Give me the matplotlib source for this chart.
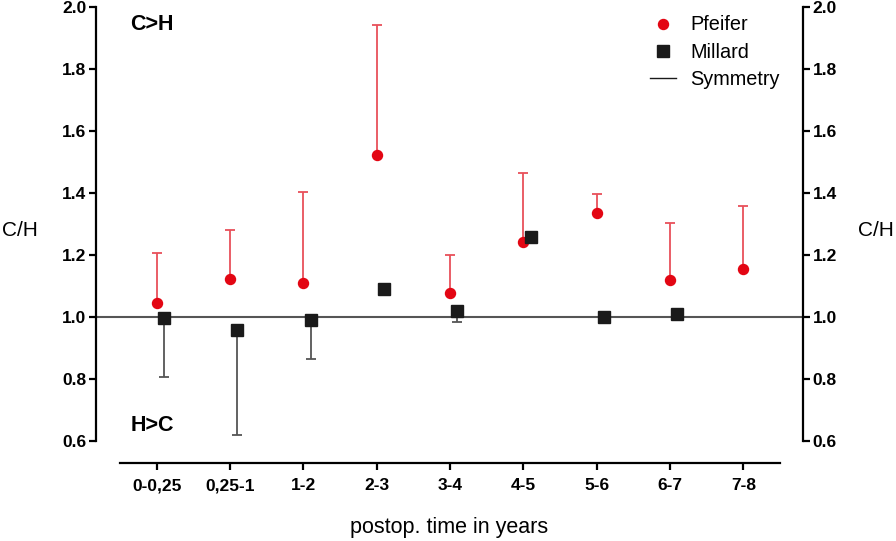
import matplotlib
matplotlib.use("Agg")
import matplotlib.pyplot as plt
from matplotlib.lines import Line2D
import numpy as np

plt.rcParams['font.family'] = ['Liberation Sans', 'DejaVu Sans']

# data
periods = ['0-0,25', '0,25-1', '1-2', '2-3', '3-4', '4-5', '5-6', '6-7', '7-8']
pfeifer = [1.043, 1.120, 1.110, 1.522, 1.077, 1.242, 1.334, 1.118, 1.153]
pfeifer_upper = [1.205, 1.280, 1.402, 1.940, 1.198, 1.463, 1.396, 1.303, 1.357]
millard = [0.996, 0.956, 0.989, 1.088, 1.019, 1.257, 0.998, 1.009, np.nan]
millard_lower = [0.805, 0.619, 0.865, np.nan, 0.982, np.nan, np.nan, np.nan, np.nan]

red = '#e30613'
red_bar = '#e8505a'
dark = '#1a1a1a'
grey_bar = '#555555'

x = np.arange(len(periods))
pf = np.array(pfeifer)
pf_top = np.array(pfeifer_upper)
ml = np.array(millard)
ml_lo = np.array(millard_lower)
has_lo = ~np.isnan(ml_lo)

fig = plt.figure(figsize=(8.96, 5.41), dpi=100)
ax = fig.add_axes([0.107, 0.1442, 0.789, 0.8434])
ax.set_xlim(-0.83, 8.81)
ax.set_ylim(0.528, 2.0)

# symmetry line
ax.axhline(1.0, color=grey_bar, lw=1.5, zorder=1)

# Pfeifer: one-sided upper error bars (stem + cap)
ax.vlines(x, pf, pf_top, color=red_bar, lw=1.3, zorder=2)
ax.plot(x, pf_top, ls='none', marker='_', ms=7, mew=1.3, color=red_bar, zorder=2, clip_on=False)
ax.plot(x, pf, 'o', color=red, markersize=7.2, zorder=3, clip_on=False)

# Millard: one-sided lower error bars, slightly offset
xm = x + 0.1
ax.vlines(xm[has_lo], ml_lo[has_lo], ml[has_lo], color=grey_bar, lw=1.3, zorder=2)
ax.plot(xm[has_lo], ml_lo[has_lo], ls='none', marker='_', ms=7, mew=1.3, color=grey_bar, zorder=2)
ax.plot(xm, ml, 's', color=dark, markersize=8.4, zorder=4)

# spines
for s in ['left', 'right', 'bottom']:
    ax.spines[s].set_linewidth(1.6)
ax.spines['top'].set_visible(False)
ax.spines['left'].set_bounds(0.6, 2.0)
ax.spines['right'].set_bounds(0.6, 2.0)
ax.spines['bottom'].set_bounds(-0.5, 8.5)

yt = [0.6, 0.8, 1.0, 1.2, 1.4, 1.6, 1.8, 2.0]
ax.set_yticks(yt)
ax.set_yticklabels([f'{v:.1f}' for v in yt])
ax.set_xticks(x)
ax.set_xticklabels(periods)
ax.tick_params(axis='both', direction='out', length=5, width=1.6, labelsize=12.5, pad=2)
ax.tick_params(axis='y', right=True, labelright=True)
for lab in ax.get_xticklabels() + ax.get_yticklabels():
    lab.set_fontweight('bold')
ax.tick_params(axis='x', pad=6)

ax.set_ylabel('C/H', rotation=0, fontsize=15, va='center')
ax.yaxis.set_label_coords(-0.107, 0.51)
ax.text(1.104, 0.51, 'C/H', transform=ax.transAxes, fontsize=15, va='center', ha='center')
ax.set_xlabel('postop. time in years', fontsize=15.5, labelpad=17)

ax.text(0.049, 0.962, 'C>H', transform=ax.transAxes, fontsize=15.5, fontweight='bold', va='center')
ax.text(0.049, 0.082, 'H>C', transform=ax.transAxes, fontsize=15.5, fontweight='bold', va='center')

handles = [
    Line2D([], [], marker='o', color=red, ls='none', markersize=7.2),
    Line2D([], [], marker='s', color=dark, ls='none', markersize=8.4),
    Line2D([], [], color=dark, lw=1),
]
ax.legend(handles, ['Pfeifer', 'Millard', 'Symmetry'], loc='upper left',
          bbox_to_anchor=(0.759, 1.02), frameon=False, fontsize=14.3,
          handlelength=1.3, labelspacing=0.42, handletextpad=0.7)

fig.savefig('out.png', dpi=100)
